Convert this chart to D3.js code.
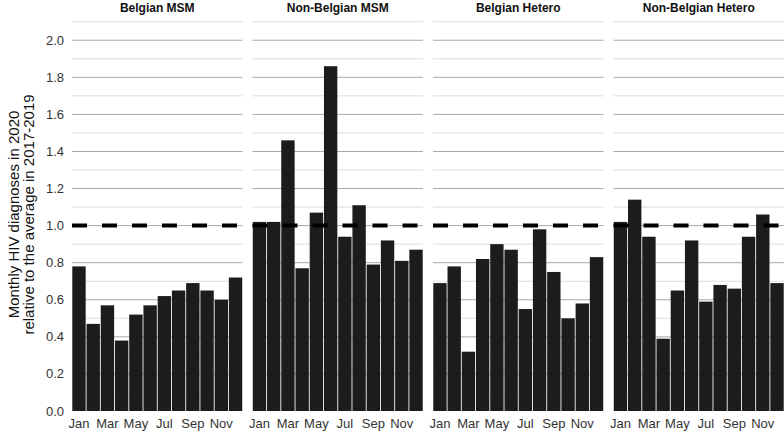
<!DOCTYPE html>
<html><head><meta charset="utf-8">
<script src="https://cdn.jsdelivr.net/npm/d3@7"></script>
<style>body{margin:0;background:#fff;font-family:"Liberation Sans",Arial,sans-serif}</style>
</head><body><div id="chart"></div>
<script>
const months = ['Jan','Feb','Mar','Apr','May','Jun','Jul','Aug','Sep','Oct','Nov','Dec'];
const groups = ['Belgian MSM','Non-Belgian MSM','Belgian Hetero','Non-Belgian Hetero'];
const belgianMSM = [0.78,0.47,0.57,0.38,0.52,0.57,0.62,0.65,0.69,0.65,0.60,0.72];
const nonBelgianMSM = [1.02,1.02,1.46,0.77,1.07,1.86,0.94,1.11,0.79,0.92,0.81,0.87];
const belgianHetero = [0.69,0.78,0.32,0.82,0.90,0.87,0.55,0.98,0.75,0.50,0.58,0.83];
const nonBelgianHetero = [1.02,1.14,0.94,0.39,0.65,0.92,0.59,0.68,0.66,0.94,1.06,0.69];
const series = [belgianMSM, nonBelgianMSM, belgianHetero, nonBelgianHetero];
const yTicks = [0,0.2,0.4,0.6,0.8,1.0,1.2,1.4,1.6,1.8,2.0];
const reference = 1.0;

const W = 784, H = 434;
const mLeft = 72, mRight = 784, gap = 10, mTop = 18, mBottom = 411;
const pw = (mRight - mLeft - gap * 3) / 4;

const svg = d3.select('#chart').append('svg').attr('width', W).attr('height', H);
const y = d3.scaleLinear().domain([0, 2.12]).range([mBottom, mTop]);
const x = d3.scaleBand().domain(months).range([0, pw]).paddingInner(0.06).paddingOuter(0.02);

// y axis labels
svg.append('g').selectAll('text').data(yTicks).join('text')
	.attr('x', 64).attr('y', d => y(d)).attr('dy', '0.35em')
	.attr('text-anchor', 'end').style('font-size', '13px').style('fill', '#333')
	.text(d => d.toFixed(1));

svg.append('text')
	.attr('transform', `translate(20, ${(mTop + mBottom) / 2}) rotate(-90)`)
	.attr('text-anchor', 'middle').style('font-size', '15px').style('fill', '#111')
	.selectAll('tspan').data(['Monthly HIV diagnoses in 2020', 'relative to the average in 2017-2019']).join('tspan')
	.attr('x', 0).attr('dy', (d, i) => i === 0 ? '-0.1em' : '1.05em').text(d => d);

groups.forEach((g, gi) => {
	const px = mLeft + gi * (pw + gap);
	const panel = svg.append('g').attr('transform', `translate(${px},0)`);

	// minor and major grid
	d3.range(1, 22).forEach(k => {
		const v = k / 10;
		panel.append('line').attr('x1', 0).attr('x2', pw).attr('y1', y(v)).attr('y2', y(v))
			.attr('stroke', k % 2 === 0 ? '#a8a8a8' : '#dcdcdc').attr('stroke-width', 1);
	});

	panel.selectAll('rect').data(series[gi]).join('rect')
		.attr('x', (d, i) => x(months[i])).attr('width', x.bandwidth())
		.attr('y', d => y(d)).attr('height', d => y(0) - y(d))
		.attr('fill', '#1c1c1c');

	panel.append('line').attr('x1', 0).attr('x2', pw).attr('y1', y(reference)).attr('y2', y(reference))
		.attr('stroke', '#000').attr('stroke-width', 4).attr('stroke-dasharray', '15,15');

	panel.selectAll('.xl').data(months.filter((m, i) => i % 2 === 0)).join('text')
		.attr('x', d => x(d) + x.bandwidth() / 2).attr('y', 428)
		.attr('text-anchor', 'middle').style('font-size', '13px').style('fill', '#333')
		.text(d => d);

	panel.append('text').attr('x', pw / 2).attr('y', 12).attr('text-anchor', 'middle')
		.style('font-size', '12px').style('font-weight', 'bold').style('fill', '#111').text(g);
});
</script></body></html>
